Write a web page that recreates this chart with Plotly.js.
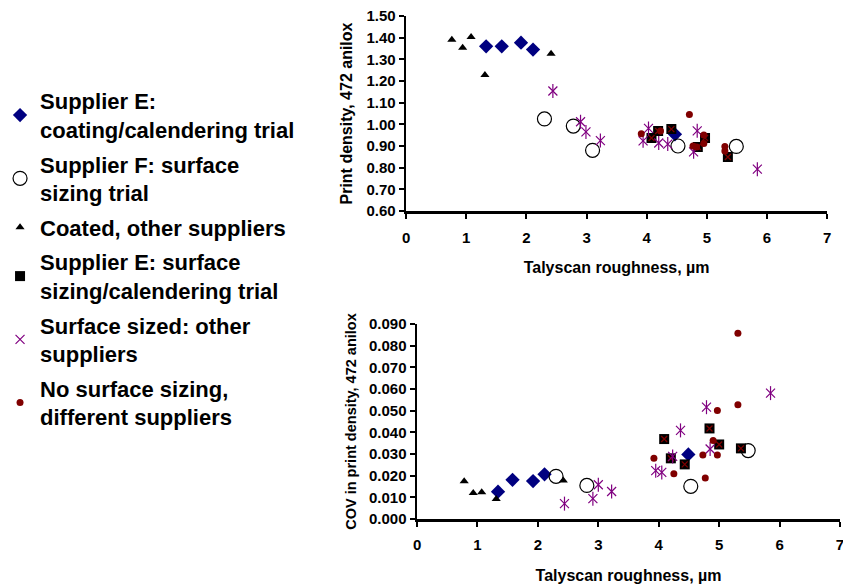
<!DOCTYPE html>
<html>
<head>
<meta charset="utf-8">
<script src="https://cdn.plot.ly/plotly-3.0.1.min.js"></script>
<style>html,body{margin:0;padding:0;background:#fff}#chart{width:843px;height:587px}</style>
</head>
<body>
<div id="chart"></div>
<script>
// Series names
const seriesNames = [
  "Supplier E:<br>coating/calendering trial",
  "Supplier F: surface<br>sizing trial",
  "Coated, other suppliers",
  "Supplier E: surface<br>sizing/calendering trial",
  "Surface sized: other<br>suppliers",
  "No surface sizing,<br>different suppliers"
];

// Top panel: print density vs roughness
const diamondTopX = [1.33, 1.59, 1.91, 2.11, 4.47];
const diamondTopY = [1.360, 1.360, 1.377, 1.345, 0.954];
const circleTopX = [2.30, 2.78, 3.10, 4.52, 5.49];
const circleTopY = [1.025, 0.992, 0.880, 0.900, 0.898];
const triangleTopX = [0.76, 0.94, 1.08, 1.31, 2.41];
const triangleTopY = [1.390, 1.354, 1.403, 1.228, 1.326];
const squareTopX = [4.08, 4.19, 4.41, 4.85, 4.97, 5.35];
const squareTopY = [0.937, 0.969, 0.978, 0.895, 0.937, 0.849];
const asteriskTopX = [2.44, 2.90, 2.99, 3.23, 3.94, 4.03, 4.20, 4.35, 4.78, 4.84, 5.84];
const asteriskTopY = [1.154, 1.012, 0.965, 0.925, 0.924, 0.981, 0.914, 0.909, 0.873, 0.970, 0.793];
const dotTopX = [3.91, 4.23, 4.71, 4.77, 4.83, 4.95, 4.95, 5.30, 5.30];
const dotTopY = [0.957, 0.969, 1.045, 0.900, 0.895, 0.951, 0.912, 0.898, 0.877];

// Bottom panel: COV in print density vs roughness
const diamondBotX = [1.34, 1.58, 1.92, 2.11, 4.49];
const diamondBotY = [0.0126, 0.0181, 0.0175, 0.0206, 0.0298];
const circleBotX = [2.30, 2.81, 4.53, 5.48];
const circleBotY = [0.0197, 0.0155, 0.0151, 0.0316];
const triangleBotX = [0.78, 0.93, 1.07, 1.31, 2.42];
const triangleBotY = [0.0174, 0.0120, 0.0123, 0.0092, 0.0178];
const squareBotX = [4.09, 4.20, 4.43, 4.84, 5.00, 5.36];
const squareBotY = [0.0369, 0.0280, 0.0252, 0.0418, 0.0344, 0.0326];
const asteriskBotX = [2.44, 2.91, 3.00, 3.22, 3.95, 4.05, 4.23, 4.36, 4.79, 4.85, 5.85];
const asteriskBotY = [0.0071, 0.0094, 0.0158, 0.0127, 0.0223, 0.0215, 0.0289, 0.0409, 0.0516, 0.0323, 0.0581];
const dotBotX = [3.92, 4.25, 4.73, 4.77, 4.90, 4.97, 4.97, 5.31, 5.31];
const dotBotY = [0.0280, 0.0209, 0.0295, 0.0189, 0.0362, 0.0501, 0.0295, 0.0527, 0.0857];

const xTickVals = [0, 1, 2, 3, 4, 5, 6, 7];

const FONT = "Liberation Sans, Arial, Helvetica, sans-serif";
const NAVY = "#000080", MAROON = "#800000", PURPLE = "#800080";

function makeTraces(d, xa, ya, legend) {
  const base = {type: "scatter", mode: "markers", xaxis: xa, yaxis: ya, hoverinfo: "x+y"};
  return [
    Object.assign({}, base, {x: d.diamond[0], y: d.diamond[1], name: seriesNames[0], legendgroup: "g1", showlegend: legend,
      marker: {symbol: "diamond", size: 11, color: NAVY, line: {width: 0}}}),
    Object.assign({}, base, {x: d.circle[0], y: d.circle[1], name: seriesNames[1], legendgroup: "g2", showlegend: legend,
      marker: {symbol: "circle-open", size: 14, color: "#000", line: {width: 1.2, color: "#000"}}}),
    Object.assign({}, base, {x: d.triangle[0], y: d.triangle[1], name: seriesNames[2], legendgroup: "g3", showlegend: legend,
      marker: {symbol: "triangle-up", size: 8, color: "#000", line: {width: 0}}}),
    Object.assign({}, base, {x: d.square[0], y: d.square[1], name: seriesNames[3], legendgroup: "g4", showlegend: legend,
      marker: {symbol: "square", size: 10, color: "#000", line: {width: 0}}}),
    Object.assign({}, base, {x: d.square[0], y: d.square[1], name: seriesNames[3], legendgroup: "g4", showlegend: false,
      marker: {symbol: "x-thin-open", size: 6, color: MAROON, line: {width: 1.3, color: MAROON}}}),
    Object.assign({}, base, {x: d.asterisk[0], y: d.asterisk[1], name: seriesNames[4], legendgroup: "g5", showlegend: legend,
      marker: {symbol: "x-thin-open", size: 9, color: PURPLE, line: {width: 1.2, color: PURPLE}}}),
    Object.assign({}, base, {x: d.asterisk[0], y: d.asterisk[1], name: seriesNames[4], legendgroup: "g5", showlegend: false,
      marker: {symbol: "line-ns-open", size: 10, color: PURPLE, line: {width: 1.2, color: PURPLE}}}),
    Object.assign({}, base, {x: d.dot[0], y: d.dot[1], name: seriesNames[5], legendgroup: "g6", showlegend: legend,
      marker: {symbol: "circle", size: 7, color: MAROON, line: {width: 0}}})
  ];
}

const topData = {diamond: [diamondTopX, diamondTopY], circle: [circleTopX, circleTopY], triangle: [triangleTopX, triangleTopY],
  square: [squareTopX, squareTopY], asterisk: [asteriskTopX, asteriskTopY], dot: [dotTopX, dotTopY]};
const botData = {diamond: [diamondBotX, diamondBotY], circle: [circleBotX, circleBotY], triangle: [triangleBotX, triangleBotY],
  square: [squareBotX, squareBotY], asterisk: [asteriskBotX, asteriskBotY], dot: [dotBotX, dotBotY]};

const traces = makeTraces(topData, "x", "y", true).concat(makeTraces(botData, "x2", "y2", false));

const W = 843, H = 587;
const axisCommon = {
  showline: true, linecolor: "#000", linewidth: 2.5, ticks: "outside", ticklen: 5, tickwidth: 2, tickcolor: "#000",
  showgrid: false, zeroline: false, mirror: false,
  tickfont: {family: FONT, size: 15, color: "#000", weight: 700}
};

const layout = {
  width: W, height: H,
  margin: {l: 0, r: 0, t: 0, b: 0},
  paper_bgcolor: "#fff", plot_bgcolor: "#fff",
  font: {family: FONT, color: "#000"},
  showlegend: true,
  legend: {
    x: -6 / W, xanchor: "left", y: 1 - 80 / H, yanchor: "top",
    font: {family: FONT, size: 22, color: "#000", weight: 700},
    traceorder: "grouped", tracegroupgap: 3, bgcolor: "rgba(0,0,0,0)", borderwidth: 0
  },
  xaxis: Object.assign({}, axisCommon, {
    domain: [403 / W, 827 / W], anchor: "y", range: [0, 7], tickvals: xTickVals, ticklabelstandoff: 6,
    title: {text: "Talyscan roughness, µm", font: {family: FONT, size: 16, weight: 700}, standoff: 18}
  }),
  yaxis: Object.assign({}, axisCommon, {
    domain: [(H - 211) / H, (H - 16) / H], anchor: "x", range: [0.60, 1.50], dtick: 0.1, tick0: 0.6, tickformat: ".2f",
    title: {text: "Print density, 472 anilox", font: {family: FONT, size: 16, weight: 700}, standoff: 10}
  }),
  xaxis2: Object.assign({}, axisCommon, {
    domain: [414 / W, 840 / W], anchor: "y2", range: [0, 7], tickvals: xTickVals, ticklabelstandoff: 5,
    ticklabeloverflow: "allow",
    title: {text: "Talyscan roughness, µm", font: {family: FONT, size: 16, weight: 700}, standoff: 19}
  }),
  yaxis2: Object.assign({}, axisCommon, {
    domain: [(H - 519) / H, (H - 324) / H], anchor: "x2", range: [0, 0.09], dtick: 0.01, tick0: 0, tickformat: ".3f",
    title: {text: "COV in print density, 472 anilox", font: {family: FONT, size: 14.5, weight: 700}, standoff: 9}
  })
};

Plotly.newPlot("chart", traces, layout, {displayModeBar: false, staticPlot: true});
</script>
</body>
</html>
